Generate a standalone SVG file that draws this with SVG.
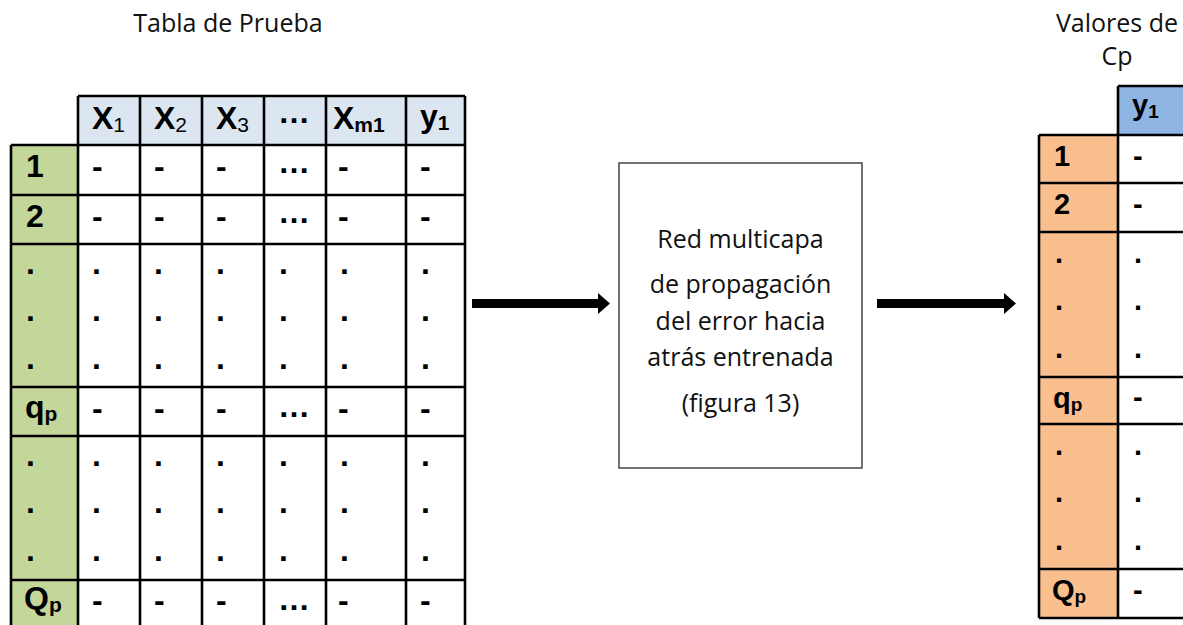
<svg xmlns="http://www.w3.org/2000/svg" width="1183" height="625" viewBox="0 0 1183 625">
<style>
.cal{font-family:"Open Sans","Noto Sans",sans-serif;font-size:25px;fill:#111}
.mid{text-anchor:middle}
.t{font-family:"Liberation Sans",Arial,sans-serif;font-weight:bold;font-size:32px;fill:#000}
.t2{font-family:"Liberation Sans",Arial,sans-serif;font-weight:bold;font-size:29px;fill:#000}
.s{font-size:21px}
.sn{font-size:21px;font-weight:normal}
.s2{font-size:19px}
.g{stroke:#000;stroke-width:2.6;fill:none}
.box{fill:#fff;stroke:#444;stroke-width:1.5}
.arr{fill:#000}
</style>
<rect width="1183" height="625" fill="#fff"/>
<text class="cal mid" x="228" y="32">Tabla de Prueba</text>
<text class="cal mid" x="1117" y="32">Valores de</text>
<text class="cal mid" x="1117" y="65">Cp</text>

<g id="tabla-prueba">
<rect x="78" y="96" width="387" height="49" fill="#DCE6F1"/>
<rect x="11" y="145" width="67" height="490" fill="#C4D79B"/>
<rect x="78" y="145" width="387" height="490" fill="#fff"/>
<path class="g" d="M78 96H465M11 145H465M11 195H465M11 244H465M11 387H465M11 436H465M11 580H465M11 145V640M78 96V640M140 96V640M202 96V640M264 96V640M326 96V640M406 96V640M465 96V640"/>
<text class="t" x="92" y="129">X<tspan class="sn" dy="3">1</tspan></text>
<text class="t" x="154" y="129">X<tspan class="sn" dy="3">2</tspan></text>
<text class="t" x="216" y="129">X<tspan class="sn" dy="3">3</tspan></text>
<text class="t" x="278" y="123">…</text>
<text class="t" x="333" y="129">X<tspan class="s" dy="3">m1</tspan></text>
<text class="t" x="420" y="127">y<tspan class="s" dy="3">1</tspan></text>

<text class="t" x="26" y="177">1</text>
<text class="t" x="92" y="177">-</text><text class="t" x="154" y="177">-</text><text class="t" x="216" y="177">-</text><text class="t" x="278" y="173">…</text><text class="t" x="338" y="177">-</text><text class="t" x="420" y="177">-</text>
<text class="t" x="26" y="227">2</text>
<text class="t" x="92" y="227">-</text><text class="t" x="154" y="227">-</text><text class="t" x="216" y="227">-</text><text class="t" x="278" y="223">…</text><text class="t" x="338" y="227">-</text><text class="t" x="420" y="227">-</text>
<text class="t" x="26" y="274">.</text><text class="t" x="92" y="274">.</text><text class="t" x="154" y="274">.</text><text class="t" x="216" y="274">.</text><text class="t" x="279" y="274">.</text><text class="t" x="340" y="274">.</text><text class="t" x="421" y="274">.</text>
<text class="t" x="26" y="321">.</text><text class="t" x="92" y="321">.</text><text class="t" x="154" y="321">.</text><text class="t" x="216" y="321">.</text><text class="t" x="279" y="321">.</text><text class="t" x="340" y="321">.</text><text class="t" x="421" y="321">.</text>
<text class="t" x="26" y="369">.</text><text class="t" x="92" y="369">.</text><text class="t" x="154" y="369">.</text><text class="t" x="216" y="369">.</text><text class="t" x="279" y="369">.</text><text class="t" x="340" y="369">.</text><text class="t" x="421" y="369">.</text>
<text class="t" x="25" y="418">q<tspan class="s" dy="3">p</tspan></text>
<text class="t" x="92" y="419">-</text><text class="t" x="154" y="419">-</text><text class="t" x="216" y="419">-</text><text class="t" x="278" y="417">…</text><text class="t" x="338" y="419">-</text><text class="t" x="420" y="419">-</text>
<text class="t" x="26" y="466">.</text><text class="t" x="92" y="466">.</text><text class="t" x="154" y="466">.</text><text class="t" x="216" y="466">.</text><text class="t" x="279" y="466">.</text><text class="t" x="340" y="466">.</text><text class="t" x="421" y="466">.</text>
<text class="t" x="26" y="513">.</text><text class="t" x="92" y="513">.</text><text class="t" x="154" y="513">.</text><text class="t" x="216" y="513">.</text><text class="t" x="279" y="513">.</text><text class="t" x="340" y="513">.</text><text class="t" x="421" y="513">.</text>
<text class="t" x="26" y="561">.</text><text class="t" x="92" y="561">.</text><text class="t" x="154" y="561">.</text><text class="t" x="216" y="561">.</text><text class="t" x="279" y="561">.</text><text class="t" x="340" y="561">.</text><text class="t" x="421" y="561">.</text>
<text class="t" x="24" y="609">Q<tspan class="s" dy="3">p</tspan></text>
<text class="t" x="92" y="611">-</text><text class="t" x="154" y="611">-</text><text class="t" x="216" y="611">-</text><text class="t" x="278" y="610">…</text><text class="t" x="338" y="611">-</text><text class="t" x="420" y="611">-</text>
</g>

<g id="red">
<rect class="box" x="619" y="163" width="243" height="305"/>
<text class="cal mid" x="740.5" y="248">Red multicapa</text>
<text class="cal mid" x="740.5" y="293">de propagación</text>
<text class="cal mid" x="740.5" y="330">del error hacia</text>
<text class="cal mid" x="740.5" y="366">atrás entrenada</text>
<text class="cal mid" x="740.5" y="412">(figura 13)</text>
</g>

<g id="valores-cp">
<rect x="1118" y="86" width="80" height="49" fill="#8DB4E2"/>
<rect x="1039" y="135" width="79" height="483" fill="#F9BF8F"/>
<rect x="1118" y="135" width="80" height="483" fill="#fff"/>
<path class="g" d="M1118 86H1200M1039 135H1200M1039 183H1200M1039 232H1200M1039 377H1200M1039 424H1200M1039 569H1200M1039 618H1200M1039 135V618M1118 86V618"/>
<text class="t2" x="1132" y="115">y<tspan class="s2" dy="3">1</tspan></text>
<text class="t2" x="1054" y="166">1</text><text class="t2" x="1133" y="166">-</text>
<text class="t2" x="1054" y="214">2</text><text class="t2" x="1133" y="214">-</text>
<text class="t2" x="1055" y="263">.</text><text class="t2" x="1134" y="263">.</text>
<text class="t2" x="1055" y="310">.</text><text class="t2" x="1134" y="310">.</text>
<text class="t2" x="1055" y="358">.</text><text class="t2" x="1134" y="358">.</text>
<text class="t2" x="1053" y="408">q<tspan class="s2" dy="3">p</tspan></text><text class="t2" x="1133" y="407">-</text>
<text class="t2" x="1055" y="455">.</text><text class="t2" x="1134" y="455">.</text>
<text class="t2" x="1055" y="502">.</text><text class="t2" x="1134" y="502">.</text>
<text class="t2" x="1055" y="550">.</text><text class="t2" x="1134" y="550">.</text>
<text class="t2" x="1052" y="600">Q<tspan class="s2" dy="3">p</tspan></text><text class="t2" x="1133" y="600">-</text>
</g>

<g id="connectors">
<path class="arr" d="M472 299H598V293L610 303.5L598 314V308H472Z"/>
<path class="arr" d="M877 299H1004V293L1016 303.5L1004 314V308H877Z"/>
</g>
</svg>
